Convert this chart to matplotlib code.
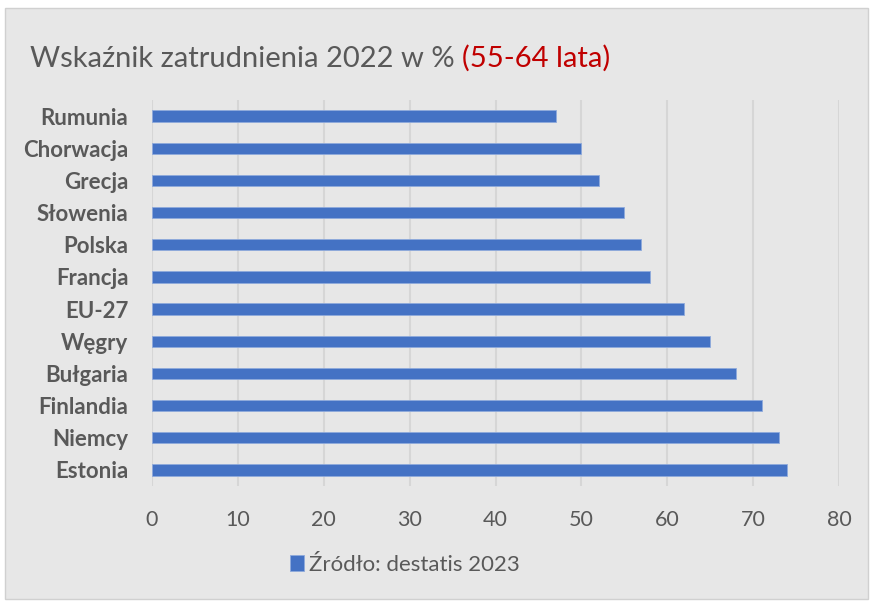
import matplotlib
matplotlib.use("Agg")
import matplotlib.pyplot as plt
from matplotlib.patches import Rectangle

# Employment rate 55-64, 2022 (top to bottom as in the chart)
countries = ["Rumunia", "Chorwacja", "Grecja", "Słowenia", "Polska", "Francja",
             "EU-27", "Węgry", "Bułgaria", "Finlandia", "Niemcy", "Estonia"]
values = [47, 50, 52, 55, 57, 58, 62, 65, 68, 71, 73, 74]
xticks = [0, 10, 20, 30, 40, 50, 60, 70, 80]

title_main = "Wskaźnik zatrudnienia 2022 w % "
title_red = "(55-64 lata)"
legend_label = "Źródło: destatis 2023"

plt.rcParams['font.family'] = ['Lato', 'DejaVu Sans']

W, H = 872, 603
fig = plt.figure(figsize=(W / 100, H / 100), dpi=100, facecolor="white")

# chart area background with thin border
fig.patches.append(Rectangle((5 / W, 4 / H), 863 / W, 591 / H, transform=fig.transFigure,
                             facecolor="#e7e7e7", edgecolor="#d0d0d0", linewidth=1,
                             zorder=-5))

ax = fig.add_axes([152 / W, 1 - 486 / H, 687 / W, 386 / H])
ax.patch.set_alpha(0)

ypos = list(range(len(countries)))
ax.barh(ypos, values, height=0.35, color="#4472c4", edgecolor="#8faadc",
        linewidth=0.6, zorder=3, label=legend_label)
ax.set_ylim(len(countries) - 0.5, -0.5)
ax.set_xlim(0, 80)
ax.set_xticks(xticks)
ax.set_yticks(ypos)
ax.set_yticklabels(countries, fontsize=16, fontweight="bold", color="#595959")
ax.tick_params(axis="y", length=0, pad=17)
ax.tick_params(axis="x", length=0, pad=17, labelsize=15.5, labelcolor="#595959")
ax.grid(axis="x", color="#d6d6d6", linewidth=1.5, zorder=0)
for s in ax.spines.values():
    s.set_visible(False)

# title: grey part + red part
t1 = fig.text(30 / W, 1 - 67 / H, title_main, fontsize=21, color="#595959",
              ha="left", va="baseline")
fig.canvas.draw()
bb = t1.get_window_extent()
fig.text(bb.x1 / W, 1 - 67 / H, title_red, fontsize=21, color="#c00000",
         ha="left", va="baseline")

fig.legend(loc="center", bbox_to_anchor=(405 / W, 1 - 565 / H), frameon=False,
           fontsize=16, labelcolor="#595959", handlelength=0.6, handleheight=0.7,
           handletextpad=0.25)

fig.savefig("out.png", dpi=100, facecolor=fig.get_facecolor())
